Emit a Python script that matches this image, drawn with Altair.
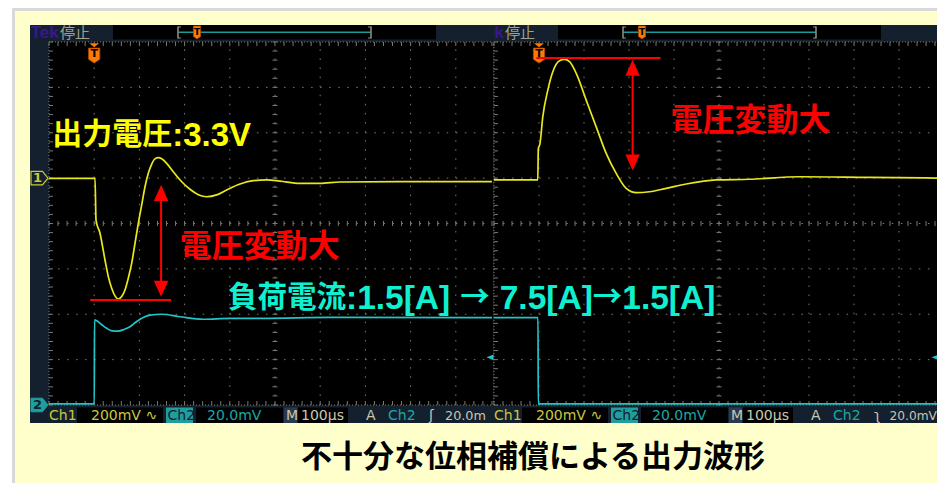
import altair as alt
import pandas as pd

# ---------------- waveform data read from the two oscilloscope screens ----------------
# time: microseconds from the trigger (100 us/div)
# Ch1: output voltage deviation from 3.3 V in mV (200 mV/div)
# Ch2: load-current sense voltage in mV (20 mV/div)
L_CH1_T = [-100, 1.8, 4.0, 12.8, 23.9, 31.2, 38.7, 46.0, 53.3, 60.8, 68.1, 75.4, 83.0, 90.3,
           97.6, 105.1, 112.4, 119.7, 127.2, 134.5, 141.8, 149.3, 160.4, 175.0, 193.6, 211.9,
           230.3, 248.9, 271.0, 293.1, 322.6, 352.0, 381.6, 410.6, 455.0, 499.6, 543.8, 676.5, 880.0]
L_CH1_MV = [-1, -1, -185, -243, -361, -434, -485, -519, -533, -522, -493, -441, -375, -287,
            -199, -118, -38, 21, 62, 85, 90, 85, 65, 28, -16, -49,
            -73, -82, -74, -52, -26, -11, -8, -13, -23, -23, -17, -15, -15]

R_CH1_T = [-100, -2.7, -1.5, 2.0, 8.4, 19.6, 30.7, 45.6, 56.7, 67.8, 82.7, 104.9, 127.1,
           149.3, 171.6, 193.8, 216.0, 245.6, 282.7, 327.1, 393.8, 467.8, 578.9, 734.0, 900.0]
R_CH1_MV = [-8, -8, 130, 150, 270, 388, 469, 517, 523, 513, 462, 344, 226,
            109, 21, -45, -64, -60, -45, -26, -8, -5, 6, 3, 0]

L_CH2_T = [-100, 0.2, 0.7, 5.5, 15.0, 27.7, 39.4, 53.3, 65.9, 79.2, 92.5, 108.6, 123.5,
           149.3, 189.8, 241.4, 300.4, 373.5, 521.7, 880.0]
L_CH2_MV = [0.5, 0.5, 37.5, 37.1, 35.7, 33.8, 32.7, 32.6, 33.3, 34.5, 36.6, 38.6, 39.6,
            40.0, 38.9, 37.8, 38.2, 38.2, 38.6, 38.5]

R_CH2_T = [-100, -2.2, -1.7, 900]
R_CH2_MV = [38.5, 38.5, 0.5, 0.5]

TRIG_LEVEL_MV = 21

# ---------------- texts ----------------
TITLE = "不十分な位相補償による出力波形"
DEV_LABEL = "電圧変動大"
# label pieces: (text, font kind); "gap" pieces are blank advances in px
VOUT_PARTS = [("出力電圧", "jp"), (":3.3V", "lat")]
LOAD_PARTS = [("負荷電流", "jp"), (":1.5[A]", "lat"), (10, "gap"), ("→", "jp"), (10, "gap"),
              ("7.5[A]", "lat"), ("→", "jp"), ("1.5[A]", "lat")]

# annotation anchors in data units (t us, mV)
VOUT_AT = (-93, 188)
L_DEV_TEXT_AT = (189, -303)
R_DEV_TEXT_AT = (292, 251)
LOAD_AT = (296, 47)
L_DEV_LINE = (-9, 170, -537)
R_DEV_LINE = (-6, 270, 529)
L_DEV_ARROW = (148, -40, -515, -66, -488)
R_DEV_ARROW = (208, 500, 50, 487, 69)

# ---------------- style ----------------
JP = "Noto Sans CJK JP"
LAT = "Liberation Sans"
SANS = "DejaVu Sans"
NAVY = "#14202e"
GRID = "#7a7a6e"
YEL = "#e8e81e"
CYA = "#22c4c8"
RED = "#ff0000"
STAT_Y = "#c8c83c"
STAT_L = "#c8c8b0"
STAT_T = "#1aa8a8"

# Liberation Sans Bold advance widths (em) for the label pieces
LAT_W = {":": 0.333, ".": 0.278, " ": 0.278, "[": 0.333, "]": 0.333, "A": 0.722, "V": 0.667}

PAGE = 8
W, H = 929, 475
ONE = alt.Data(values=[{"k": 0}])


def P(v):
    return v - PAGE


def box(x0, x1, y0, y1, color, **kw):
    return alt.Chart(ONE).mark_rect(color=color, **kw).encode(
        x=alt.value(P(x0)), x2=alt.value(P(x1)), y=alt.value(P(y0)), y2=alt.value(P(y1)))


def txt(x, y, s, color, size, font=SANS, weight="normal", align="left", baseline="middle"):
    return alt.Chart(ONE).mark_text(text=s, color=color, fontSize=size, font=font,
                                    fontWeight=weight, align=align, baseline=baseline).encode(
        x=alt.value(P(x)), y=alt.value(P(y)))


X_RANGE = {"L": [P(49), P(501)], "R": [P(494), P(944)]}
Y_RANGE = [P(405), P(42)]
V_DOMAIN = {"div": [-4, 4], "ch1": [-1000, 600], "ch2": [0, 160]}


def X(field, side):
    return alt.X(field, type="quantitative",
                 scale=alt.Scale(domain=[-100, 900], range=X_RANGE[side], nice=False, zero=False),
                 axis=None)


def Y(field, kind):
    return alt.Y(field, type="quantitative",
                 scale=alt.Scale(domain=V_DOMAIN[kind], range=Y_RANGE, nice=False, zero=False),
                 axis=None)


def grid(side, tmax):
    out = []
    majors = [t for t in range(0, 900, 100) if t <= tmax and t != 400]
    out.append(alt.Chart(pd.DataFrame({"t": majors, "a": -4, "b": 4})).mark_rule(
        color=GRID, strokeWidth=1, strokeDash=[1.5, 7.58]).encode(
        x=X("t", side), y=Y("a", "div"), y2="b"))
    out.append(alt.Chart(pd.DataFrame({"d": [-3, -2, -1, 0, 1, 2, 3], "a": -100, "b": tmax})).mark_rule(
        color=GRID, strokeWidth=1, strokeDash=[1.5, 7.54]).encode(
        x=X("a", side), x2="b", y=Y("d", "div")))
    out.append(alt.Chart(pd.DataFrame({"t": [400], "a": -4, "b": 4})).mark_rule(
        color=GRID, strokeWidth=1, strokeDash=[1.5, 7.58]).encode(
        x=X("t", side), y=Y("a", "div"), y2="b"))
    dy = [round(-4 + 0.2 * i, 2) for i in range(41)]
    dt = [-100 + 20 * i for i in range(51) if -100 + 20 * i <= tmax]
    out.append(alt.Chart(pd.DataFrame({"d": dy, "t": 400})).mark_tick(
        orient="horizontal", size=5, thickness=1, color=GRID, opacity=1).encode(
        x=X("t", side), y=Y("d", "div")))
    out.append(alt.Chart(pd.DataFrame({"t": dt, "d": 0})).mark_tick(
        orient="vertical", size=5, thickness=1, color=GRID, opacity=1).encode(
        x=X("t", side), y=Y("d", "div")))
    # border
    out.append(alt.Chart(pd.DataFrame({"d": [-4, 4], "a": -100, "b": tmax})).mark_rule(
        color=GRID, strokeWidth=1, strokeDash=[1, 2]).encode(
        x=X("a", side), x2="b", y=Y("d", "div")))
    edges = [-100] + ([900] if side == "R" else [])
    out.append(alt.Chart(pd.DataFrame({"t": edges, "a": -4, "b": 4})).mark_rule(
        color=GRID, strokeWidth=1, strokeDash=[1, 2]).encode(
        x=X("t", side), y=Y("a", "div"), y2="b"))
    for d, off in ((4, 2), (-4, -2)):
        out.append(alt.Chart(pd.DataFrame({"t": dt, "d": d})).mark_tick(
            orient="vertical", size=4, thickness=1, color=GRID, opacity=1, yOffset=off).encode(
            x=X("t", side), y=Y("d", "div")))
    for t, off in [(-100, 2)] + ([(900, -2)] if side == "R" else []):
        out.append(alt.Chart(pd.DataFrame({"d": dy, "t": t})).mark_tick(
            orient="horizontal", size=4, thickness=1, color=GRID, opacity=1, xOffset=off).encode(
            x=X("t", side), y=Y("d", "div")))
    return out


def trace(side, t, v, kind, color):
    df = pd.DataFrame({"t": t, "v": v})
    return alt.Chart(df).mark_line(color=color, strokeWidth=1.7, interpolate="monotone").encode(
        x=X("t", side), y=Y("v", kind))


def scope(side, o, tmax, last_text, last_size, last_x, edge_sym):
    """o = page offset of this screen relative to the left one"""
    L = []
    # panel
    L.append(box(30 + o, 493 + o if side == "L" else 960, 25, 423, NAVY))
    L.append(box(49 + o, 493 if side == "L" else 960, 42, 405, "#000000"))
    # header
    L.append(txt(30.7 + o, 33, "Tek", "#3a1690", 17, font=LAT, weight="bold"))
    L.append(txt(60 + o, 32.5, "停止", "#a2a28a", 15, font=JP))
    L.append(box(113 + o, 436 + o, 25, 39.5, "#000000"))
    L.append(box(178 + o, 371 + o, 31.6, 33.0, "#1a9a9a"))
    for bx, sgn in ((178 + o, 1), (371 + o, -1)):
        L.append(box(bx - 0.8, bx + 0.8, 26.5, 38.5, "#8c8c78"))
        L.append(box(min(bx, bx + 3 * sgn), max(bx, bx + 3 * sgn), 26.5, 27.5, "#8c8c78"))
        L.append(box(min(bx, bx + 3 * sgn), max(bx, bx + 3 * sgn), 37.5, 38.5, "#8c8c78"))
    L.append(alt.Chart(ONE).mark_point(shape="M-0.55,-1H0.55V0.6L0,1L-0.55,0.6Z", size=169,
                                       filled=True, fill="#ff7a00", stroke="#b04a00",
                                       strokeWidth=0.8, opacity=1).encode(
        x=alt.value(P(197 + o)), y=alt.value(P(32.5))))
    L.append(txt(197 + o, 32, "T", "#000000", 9, weight="bold", align="center"))
    # status bar
    L.append(box(77 + o, 163 + o, 407.5, 423, "#000000"))
    L.append(box(166 + o, 193 + o, 407.5, 423, "#1f9e9e"))
    L.append(box(196 + o, 283 + o, 407.5, 423, "#000000"))
    L.append(box(284 + o, 297 + o, 407.5, 423, "#2a3a4e"))
    L.append(box(298 + o, 348 + o, 407.5, 423, "#000000"))
    sy = 415.5
    L.append(txt(49 + o, sy, "Ch1", STAT_Y, 14))
    L.append(txt(91 + o, sy, "200mV ∿", STAT_Y, 14))
    L.append(txt(167.5 + o, sy, "Ch2", NAVY, 14))
    L.append(txt(207 + o, sy, "20.0mV", STAT_T, 14))
    L.append(txt(286 + o, sy, "M", STAT_L, 14))
    L.append(txt(301 + o, sy, "100µs", STAT_L, 14))
    L.append(txt(366 + o, sy, "A", STAT_L, 14))
    L.append(txt(388 + o, sy, "Ch2", STAT_T, 14))
    L.append(txt(429 + o, sy, edge_sym, STAT_L, 14))
    L.append(txt(last_x + o, sy, last_text, STAT_L, last_size))
    # grid
    L += grid(side, tmax)
    # channel reference markers (the right screen's ones are hidden under the left screen)
    if side == "L":
        L.append(alt.Chart(pd.DataFrame({"v": [0]})).mark_point(
            shape="M-1,-0.8L0.35,-0.8L1,0L0.35,0.8L-1,0.8Z", size=289, filled=True,
            fill=NAVY, stroke=STAT_Y, strokeWidth=1.2, opacity=1).encode(
            x=alt.value(P(39.5 + o)), y=Y("v", "ch1")))
        L.append(alt.Chart(pd.DataFrame({"v": [0]})).mark_text(
            text="1", color=STAT_Y, fontSize=13, fontWeight="bold", font=SANS).encode(
            x=alt.value(P(37.5 + o)), y=Y("v", "ch1")))
        L.append(alt.Chart(pd.DataFrame({"v": [0]})).mark_point(
            shape="M-1,-0.8L0.35,-0.8L1,0L0.35,0.8L-1,0.8Z", size=289, filled=True,
            fill="#1f9e9e", stroke="#1f9e9e", strokeWidth=1, opacity=1).encode(
            x=alt.value(P(39.5 + o)), y=Y("v", "ch2")))
        L.append(alt.Chart(pd.DataFrame({"v": [0]})).mark_text(
            text="2", color=NAVY, fontSize=13, fontWeight="bold", font=SANS).encode(
            x=alt.value(P(37.5 + o)), y=Y("v", "ch2")))
    # trigger level marker (right edge)
    L.append(alt.Chart(pd.DataFrame({"v": [TRIG_LEVEL_MV]})).mark_point(
        shape="M1,-0.8L-1,0L1,0.8Z", size=49, filled=True, color=CYA, opacity=1).encode(
        x=alt.value(P(490 + o)), y=Y("v", "ch2")))
    # trigger position marker
    L.append(alt.Chart(pd.DataFrame({"t": [0], "d": [3.93]})).mark_point(
        shape="M-1,-0.4H1L0,0.4Z", size=100, filled=True, color="#ff7a00", opacity=1).encode(
        x=X("t", side), y=Y("d", "div")))
    L.append(alt.Chart(pd.DataFrame({"t": [0], "d": [3.70]})).mark_point(
        shape="M-0.75,-1H0.75V0.5L0,1L-0.75,0.5Z", size=225, filled=True,
        fill="#ff7a00", stroke="#b04a00", strokeWidth=0.8, opacity=1).encode(
        x=X("t", side), y=Y("d", "div")))
    L.append(alt.Chart(pd.DataFrame({"t": [0], "d": [3.74]})).mark_text(
        text="T", color="#000000", fontSize=11, fontWeight="bold", font=SANS).encode(
        x=X("t", side), y=Y("d", "div")))
    return L


def red_annot(side, line, arrow, text_at):
    out = []
    t0, t1, v = line
    out.append(alt.Chart(pd.DataFrame({"a": [t0], "b": [t1], "v": [v]})).mark_rule(
        color=RED, strokeWidth=2).encode(x=X("a", side), x2="b", y=Y("v", "ch1")))
    t, s0, s1, up, dn = arrow
    out.append(alt.Chart(pd.DataFrame({"t": [t], "a": [s0], "b": [s1]})).mark_rule(
        color=RED, strokeWidth=2).encode(x=X("t", side), y=Y("a", "ch1"), y2="b"))
    out.append(alt.Chart(pd.DataFrame({"t": [t], "v": [up]})).mark_point(
        shape="M0,-1L0.9,1L-0.9,1Z", size=256, filled=True, color=RED, opacity=1).encode(
        x=X("t", side), y=Y("v", "ch1")))
    out.append(alt.Chart(pd.DataFrame({"t": [t], "v": [dn]})).mark_point(
        shape="M0,1L0.9,-1L-0.9,-1Z", size=256, filled=True, color=RED, opacity=1).encode(
        x=X("t", side), y=Y("v", "ch1")))
    out.append(alt.Chart(pd.DataFrame({"t": [text_at[0]], "v": [text_at[1]]})).mark_text(
        text=DEV_LABEL, color=RED, fontSize=32, font=JP, fontWeight="bold",
        align="left", baseline="middle").encode(x=X("t", side), y=Y("v", "ch1")))
    return out


def piece_width(s, kind, jp_size, lat_size):
    if kind == "gap":
        return s
    if kind == "jp":
        return len(s) * jp_size
    return sum(LAT_W.get(c, 0.556) for c in s) * lat_size


def multi_label(side, at, kind, parts, color, jp_size, lat_size):
    df = pd.DataFrame({"t": [at[0]], "v": [at[1]]})
    out = []
    dx = 0.0
    for s, k in parts:
        if k != "gap":
            font = JP if k == "jp" else LAT
            size = jp_size if k == "jp" else lat_size
            out.append(alt.Chart(df).mark_text(
                text=s, color=color, fontSize=size, font=font, fontWeight="bold", align="left",
                baseline="middle", dx=dx, dy=0 if k == "jp" else 1).encode(
                x=X("t", side), y=Y("v", kind)))
        dx += piece_width(s, k, jp_size, lat_size)
    return out


layers = []
# slide frame and caption
layers.append(box(12, 960, 8, 491, "#d9d9d9"))
layers.append(box(15, 960, 11, 488, "#ffffcc"))
layers.append(box(447, 515, 488, 491, "#f4a040"))
layers.append(txt(533, 458, TITLE, "#000000", 31, font=JP, weight="bold", align="center"))

# right screen (load step down), drawn first: the left screen overlaps its left margin
layers += scope("R", 445, 900, "20.0mV", 12.2, 444.5, "ʅ")
layers.append(trace("R", R_CH2_T, R_CH2_MV, "ch2", CYA))
layers.append(trace("R", R_CH1_T, R_CH1_MV, "ch1", YEL))
layers += red_annot("R", R_DEV_LINE, R_DEV_ARROW, R_DEV_TEXT_AT)

# left screen (load step up)
layers += scope("L", 0, 880, "20.0m", 12.8, 445, "ʃ")
layers.append(trace("L", L_CH2_T, L_CH2_MV, "ch2", CYA))
layers.append(trace("L", L_CH1_T, L_CH1_MV, "ch1", YEL))
layers += red_annot("L", L_DEV_LINE, L_DEV_ARROW, L_DEV_TEXT_AT)
layers += multi_label("L", VOUT_AT, "ch1", VOUT_PARTS, "#ffff00", 30, 33)
layers += multi_label("L", LOAD_AT, "ch2", LOAD_PARTS, "#10f0d0", 29.5, 33.5)

chart = alt.layer(*layers).resolve_scale(x="independent", y="independent").properties(
    width=W, height=H, padding=0, background="#ffffff",
    autosize=alt.AutoSizeParams(type="none"),
).configure_view(strokeWidth=0)

chart.save("out.html", embed_options={"renderer": "svg", "actions": False})
